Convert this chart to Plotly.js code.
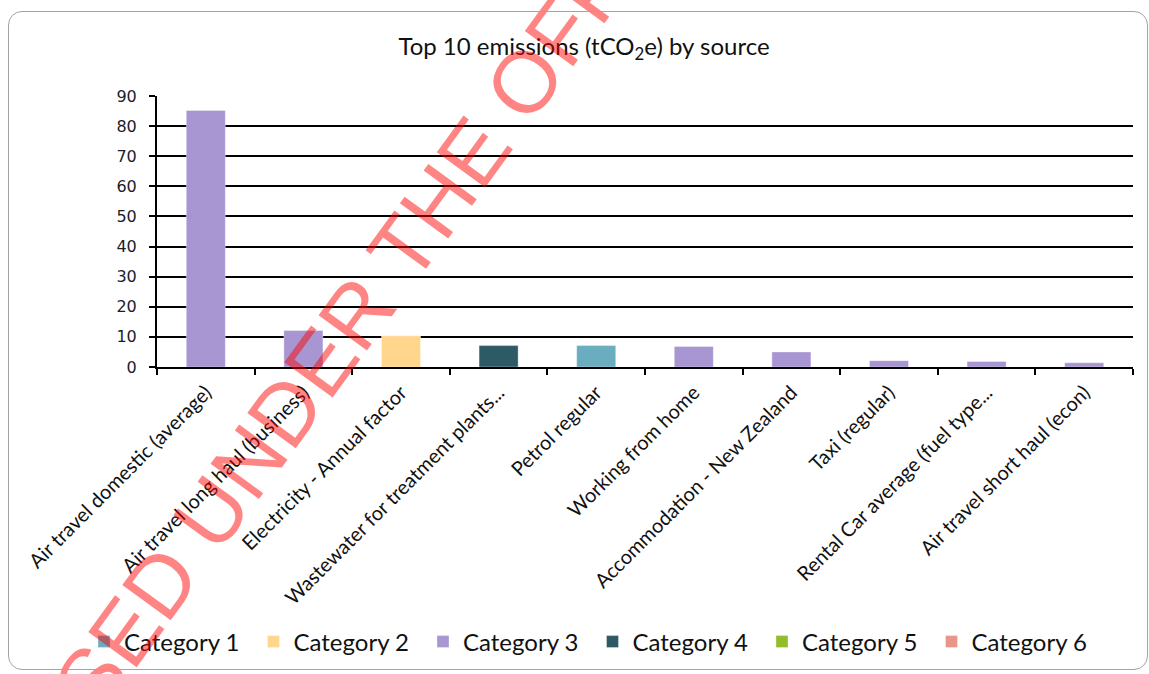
<!DOCTYPE html>
<html>
<head>
<meta charset="utf-8">
<script src="https://cdn.plot.ly/plotly-3.0.1.min.js"></script>
<style>
  html, body { margin: 0; padding: 0; background: #ffffff; }
  #chart { position: absolute; left: 0; top: 0; width: 1149px; height: 674px; }
  #frame { position: absolute; left: 8px; top: 11px; width: 1138px; height: 657px;
           border: 1.5px solid #a3a3a3; border-radius: 14px; pointer-events: none; }
</style>
</head>
<body>
<div id="chart"></div>
<div id="frame"></div>
<script>
// ---- data ----
const categories = [
  'Air travel domestic (average)',
  'Air travel long haul (business)',
  'Electricity - Annual factor',
  'Wastewater for treatment plants...',
  'Petrol regular',
  'Working from home',
  'Accommodation - New Zealand',
  'Taxi (regular)',
  'Rental Car average (fuel type...',
  'Air travel short haul (econ)'
];
const values = [85.2, 12.1, 10.35, 7.1, 7.1, 6.8, 5.0, 2.1, 1.85, 1.4];
const barCategory = [3, 3, 2, 4, 1, 3, 3, 3, 3, 3];
const seriesNames = ['Category 1', 'Category 2', 'Category 3', 'Category 4', 'Category 5', 'Category 6'];
const seriesColors = ['#6aadbe', '#ffd68c', '#a896d2', '#2e5a66', '#93bb2b', '#e9968a'];
const yTicks = [0, 10, 20, 30, 40, 50, 60, 70, 80, 90];
const titleText = 'Top 10 emissions (tCO<sub>2</sub>e) by source';
const watermarkText = 'RELEASED UNDER THE OFFICIAL INFORMATION ACT';

// ---- layout geometry ----
const W = 1149, H = 674;
const M = { l: 157, r: 16, t: 96, b: 306 };
const px2x = px => (px - M.l) / (W - M.l - M.r);
const py2y = py => (H - M.b - py) / (H - M.t - M.b);

const traces = seriesNames.map((name, k) => ({
  type: 'bar',
  name: name,
  x: categories,
  y: values.map((v, i) => (barCategory[i] === k + 1 ? v : null)),
  width: 0.4,
  marker: { color: seriesColors[k], line: { width: 1, color: 'rgba(255,255,255,0.35)' } },
  hoverinfo: 'x+y'
}));

const layout = {
  width: W, height: H,
  margin: M,
  paper_bgcolor: 'rgba(0,0,0,0)',
  plot_bgcolor: 'rgba(0,0,0,0)',
  barmode: 'overlay',
  showlegend: true,
  title: {
    text: titleText,
    font: { family: 'Lato, sans-serif', size: 24, color: '#111111' },
    x: 584 / W, xref: 'container', xanchor: 'center',
    y: 1 - 47 / H, yref: 'container', yanchor: 'middle'
  },
  xaxis: {
    type: 'category',
    range: [-0.5, categories.length - 0.5],
    tickangle: -45,
    ticks: 'outside', tickson: 'boundaries', ticklen: 6, tickwidth: 2, tickcolor: '#000',
    ticklabelstandoff: 4,
    showline: true, linecolor: '#000', linewidth: 2,
    showgrid: false,
    tickfont: { family: 'Lato, sans-serif', size: 20, color: '#111111' },
    automargin: false
  },
  yaxis: {
    range: [0, 90],
    tickvals: yTicks,
    ticktext: yTicks.map(String),
    ticks: 'outside', ticklen: 6, tickwidth: 2, tickcolor: '#000',
    ticklabelstandoff: 9,
    showline: true, linecolor: '#000', linewidth: 2,
    showgrid: true, gridcolor: '#000', gridwidth: 2,
    zeroline: false,
    tickfont: { family: 'DejaVu Sans, sans-serif', size: 16, color: '#1c1c2c' },
    automargin: false
  },
  legend: {
    orientation: 'h',
    x: px2x(84), xanchor: 'left',
    y: py2y(642), yanchor: 'middle',
    font: { family: 'Lato, sans-serif', size: 24, color: '#111111' },
    entrywidth: 124.5, entrywidthmode: 'pixels',
    traceorder: 'normal',
    bgcolor: 'rgba(0,0,0,0)'
  },
  annotations: [{
    text: watermarkText,
    xref: 'paper', yref: 'paper',
    x: px2x(560), y: py2y(32),
    xanchor: 'center', yanchor: 'middle',
    textangle: -54,
    showarrow: false,
    font: { family: 'Liberation Sans, Arial, sans-serif', size: 87, color: 'rgba(255,0,0,0.48)' }
  }]
};

Plotly.newPlot('chart', traces, layout, { displayModeBar: false, staticPlot: true });
</script>
</body>
</html>
